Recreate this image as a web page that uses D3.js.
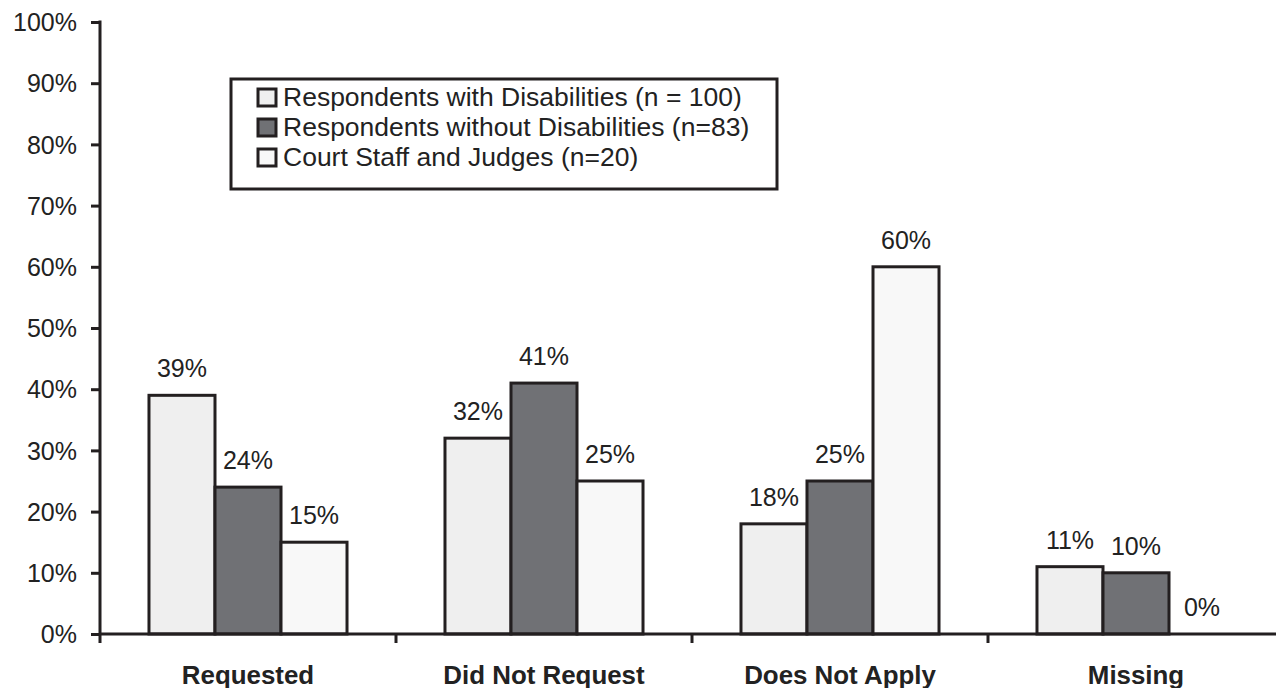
<!DOCTYPE html>
<html><head><meta charset="utf-8">
<script src="https://cdn.jsdelivr.net/npm/d3@7"></script>
<style>html,body{margin:0;padding:0;background:#fff;}svg{display:block;}</style>
</head><body>
<script>
const categories = ["Requested", "Did Not Request", "Does Not Apply", "Missing"];
const seriesNames = ["Respondents with Disabilities (n = 100)", "Respondents without Disabilities (n=83)", "Court Staff and Judges (n=20)"];
const withDisabilities = [39, 32, 18, 11];
const withoutDisabilities = [24, 41, 25, 10];
const courtStaff = [15, 25, 60, 0];
const yTicks = [0, 10, 20, 30, 40, 50, 60, 70, 80, 90, 100];
const seriesColors = ["#efefef", "#707175", "#f8f8f8"];

const W = 1276, H = 688;
const series = [withDisabilities, withoutDisabilities, courtStaff];
const stroke = "#231f20";
const font = "'Liberation Sans', Arial, sans-serif";

const svg = d3.select("body").append("svg").attr("width", W).attr("height", H);

const y = d3.scaleLinear().domain([0, 100]).range([634, 22]);
const x0 = d3.scaleBand().domain(categories).range([100, 1284]).paddingInner(0.331).paddingOuter(0.1655);
const x1 = d3.scaleBand().domain(d3.range(series.length)).range([0, x0.bandwidth()]);

function stretch(sel, f) {
  sel.each(function () {
    const L = this.getComputedTextLength();
    d3.select(this).attr("textLength", L * f).attr("lengthAdjust", "spacingAndGlyphs");
  });
}

// bars
const g = svg.append("g");
categories.forEach((c, ci) => {
  series.forEach((s, si) => {
    const v = s[ci];
    if (v > 0) {
      g.append("rect")
        .attr("x", x0(c) + x1(si))
        .attr("y", y(v))
        .attr("width", x1.bandwidth())
        .attr("height", y(0) - y(v))
        .attr("fill", seriesColors[si])
        .attr("stroke", stroke)
        .attr("stroke-width", 3);
    }
    g.append("text")
      .attr("x", x0(c) + x1(si) + x1.bandwidth() / 2)
      .attr("y", y(v) - 18)
      .attr("text-anchor", "middle")
      .attr("font-family", font)
      .attr("font-size", 25)
      .attr("fill", "#222")
      .text(v + "%");
  });
});

// y axis
const yAxis = svg.append("g").attr("transform", "translate(100,0)")
  .call(d3.axisLeft(y).tickValues(yTicks).tickFormat(d => d + "%").tickSize(9).tickPadding(14));
yAxis.select(".domain").remove();
yAxis.selectAll(".tick line").attr("stroke", stroke).attr("stroke-width", 3);
yAxis.selectAll(".tick text").attr("font-family", font).attr("font-size", 25).attr("fill", "#222").attr("dy", "0.35em");
svg.append("line").attr("x1", 100).attr("x2", 100).attr("y1", y(100) - 1.5).attr("y2", 643)
  .attr("stroke", stroke).attr("stroke-width", 3);

// x axis
svg.append("line").attr("x1", 100).attr("x2", W).attr("y1", y(0)).attr("y2", y(0))
  .attr("stroke", stroke).attr("stroke-width", 3);
categories.forEach((c, ci) => {
  if (ci > 0) {
    const bx = x0(c) - x0.step() * x0.paddingInner() / 2;
    svg.append("line").attr("x1", bx).attr("x2", bx).attr("y1", y(0)).attr("y2", y(0) + 9)
      .attr("stroke", stroke).attr("stroke-width", 3);
  }
  const t = svg.append("text")
    .attr("x", x0(c) + x0.bandwidth() / 2)
    .attr("y", 684)
    .attr("text-anchor", "middle")
    .attr("font-family", font)
    .attr("font-size", 25)
    .attr("font-weight", "bold")
    .attr("fill", "#222")
    .text(c);
  stretch(t, 1.035);
});

// legend
const lg = svg.append("g");
lg.append("rect").attr("x", 231).attr("y", 79).attr("width", 546).attr("height", 110)
  .attr("fill", "#fff").attr("stroke", stroke).attr("stroke-width", 3);
seriesNames.forEach((n, i) => {
  const yy = 106 + i * 30;
  lg.append("rect").attr("x", 258).attr("y", yy - 17).attr("width", 18).attr("height", 17)
    .attr("fill", seriesColors[i]).attr("stroke", stroke).attr("stroke-width", 3);
  const t = lg.append("text").attr("x", 283).attr("y", yy)
    .attr("font-family", font).attr("font-size", 25).attr("fill", "#222")
    .text(n);
  stretch(t, 1.06);
});
</script>
</body></html>
